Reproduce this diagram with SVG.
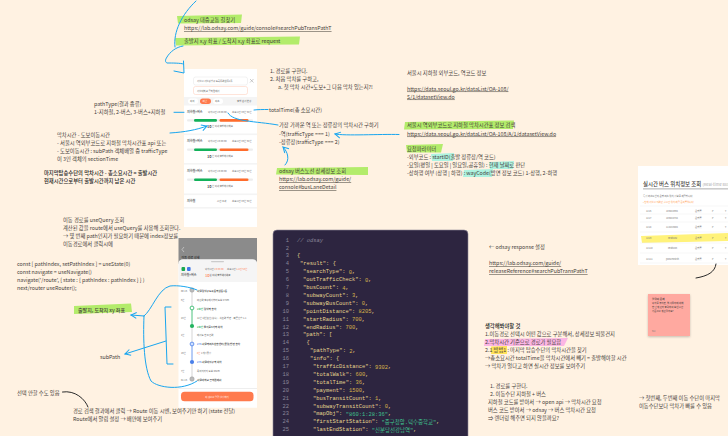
<svg xmlns="http://www.w3.org/2000/svg" width="728" height="436" viewBox="0 0 728 436">
<defs>
<style>
text{font-family:"Noto Sans CJK KR","Noto Sans",sans-serif;font-size:5.3px;fill:#45403a;dominant-baseline:central}
.b{font-weight:500;fill:#222}
.u{text-decoration:underline}
.t{font-size:2.4px;fill:#666}
.t2{font-size:2.6px;fill:#333;font-weight:500}
.o{fill:#ff7a4d}
.hg{fill:#b3ec6b}
.ht{fill:#aef3e0}
.c{stroke:#19a6ef;stroke-width:1;fill:none;stroke-linecap:round;stroke-linejoin:round}
.k{stroke:#2a2a2a;stroke-width:1;fill:none;stroke-linecap:round}
.m{font-family:"Liberation Mono","DejaVu Sans Mono","Noto Sans CJK KR",monospace;font-size:5.45px;fill:#e6d58f}
.n{fill:#8a8599;text-anchor:end}
.v{fill:#d8b24a}
.s{fill:#3fc38e}
.sep{fill:#f4f4f4}
.tt{font-size:2.4px;fill:#777}
.rl{stroke:#efefef;stroke-width:.5}
</style>
<marker id="ah" markerWidth="8" markerHeight="8" refX="6.5" refY="4" orient="auto" markerUnits="userSpaceOnUse"><path d="M1,1 L6.5,4 L1,7" fill="none" stroke="#19a6ef" stroke-width="1"/></marker>
<g id="card">
<text x="187" y="0" class="t2" style="font-size:3px">지하철+버스</text>
<text x="208" y="0" class="t">막차시간 19:00:00</text>
<text x="232" y="0" class="t">소요시간 36분 53분</text>
<rect x="187" y="7.6" width="66" height="2.2" rx="1.1" fill="#ededed"/>
<rect x="194" y="7.4" width="23" height="2.6" rx="1.3" fill="#12b15a"/>
<rect x="219.500" y="7.400" width="29" height="2.600" rx="1.300" fill="#ff6c2c"/>
<text x="207" y="14.500" class="b" style="font-size:4px">10</text>
<text x="212" y="14.500" class="t">분 이내 출발해야해요</text>
</g>
<filter id="sh" x="-20%" y="-20%" width="140%" height="140%"><feDropShadow dx="0" dy="1" stdDeviation="1.200" flood-color="#000" flood-opacity=".22"/></filter>
</defs>

<rect width="728" height="436" fill="#fff2e2"/>

<g id="highlights">
<path class="hg" d="M177,16 L242,14.500 L241,23 L178,23.500Z"/>
<path class="hg" d="M175,38 L300,36.500 L299,44.500 L176,45.500Z"/>
<path class="hg" d="M405,122 L514,120.500 L513,129 L404,129.500Z"/>
<path class="hg" d="M406,145 L443,144 L441,152.500 L407,152.500Z"/>
<path class="hg" d="M277,168 L368,167 L368,175 L276,174.500Z"/>
<path class="hg" d="M74,306 L131,303.500 L132,312 L74,314Z"/>
<path class="ht" d="M431,154 L454,153 L453,161 L432,161Z"/>
<path class="ht" d="M489,162 L514,161 L513,169 L490,169Z"/>
<path class="ht" d="M464,170 L493,169 L492,177 L463,177Z"/>
<path fill="#fbb6e4" d="M485,339 L568,338 L564,346 L484,346Z"/>
<path fill="#ffe25a" d="M491,346.500 L507,346 L507,354 L491,354Z"/>
</g>

<g id="top-notes">
<text x="184" y="20">odsay 대중교통 길찾기</text>
<text x="184" y="28" class="u">https://lab.odsay.com/guide/console#searchPubTransPathT</text>
<text x="184" y="41">출발지 x,y 좌표 / 도착지 x,y 좌표로 request</text>
</g>

<g id="phone-list">
<rect x="184" y="69" width="73" height="158" fill="#fff"/>
<rect x="193.500" y="77" width="54" height="8" rx="2" fill="#fff" stroke="#e4e4e4" stroke-width=".5"/>
<rect x="193.500" y="86.500" width="54" height="8" rx="2" fill="#fff" stroke="#ffc9b5" stroke-width=".5"/>
<text x="197" y="81" class="t">서울시 서울강남구 도곡동역삼동1동</text>
<text x="197" y="90.500" class="t">서울대학교 공학원에서</text>
<path d="M250,79 l3.500,3.500 M253.500,79 l-3.500,3.500" stroke="#999" stroke-width=".5"/>
<rect x="184" y="97" width="73" height="8.500" fill="#f4f4f4"/>
<rect x="188" y="98.500" width="10" height="5.500" rx="2.700" fill="#fff"/>
<rect x="200" y="98.500" width="11" height="5.500" rx="2.700" fill="#ff7a4d"/>
<rect x="213" y="98.500" width="10" height="5.500" rx="2.700" fill="#fff"/>
<text x="190" y="101" class="t">최적</text><text x="202.500" y="101" class="t" style="fill:#fff">최단</text><text x="215" y="101" class="t">최소</text>
<text x="237" y="101" class="t">출발 순서 변경</text>
<use href="#card" transform="translate(0,111.700)"/>
<rect class="sep" x="184" y="133.500" width="73" height="1.600"/>
<use href="#card" transform="translate(0,141)"/>
<rect class="sep" x="184" y="163" width="73" height="1.600"/>
<use href="#card" transform="translate(0,171)"/>
<rect class="sep" x="184" y="193.500" width="73" height="1.600"/>
<text x="187" y="200.700" class="t2" style="font-size:3px">지하철</text>
<text x="217" y="200.700" class="t">시간 초과</text><text x="232" y="200.700" class="t">소요시간 36분 53분</text>
<rect class="sep" x="184" y="207" width="73" height="1.600"/>
</g>

<g id="left-notes">
<text x="94" y="104">pathType(결과 종류)</text>
<text x="94" y="112">1-지하철, 2-버스, 3-버스+지하철</text>
<text x="57" y="135">막차시간 - 도보이동시간</text>
<text x="57" y="143">- 서울시 역외부코드로 지하철 막차시간표 api 또는</text>
<text x="57" y="151">- 도보이동시간 : subPath 객체배열 중 trafficType</text>
<text x="57" y="159">이 3인 객체의 sectionTime</text>
<text x="44" y="173" class="b">마지막탑승수단의 막차시간 - 총소요시간 = 출발시간</text>
<text x="44" y="181" class="b">현재시간으로부터 출발시간까지 남은 시간</text>
</g>

<g id="mid-notes">
<text x="270" y="71">1. 경로를 구한다.</text>
<text x="270" y="79">2. 처음 막차를 구하고,</text>
<text x="278" y="87">a. 첫 막차 시간+도보+그 다음 막차 있는지?!</text>
<text x="269" y="110">totalTime(총 소요시간)</text>
<text x="279" y="125">가장 가까운 역 또는 정류장의 막차시간 구하기</text>
<text x="279" y="133.500">-역(trafficType === 1)</text>
<text x="279" y="141.500">-정류장(trafficType === 2)</text>
<text x="279" y="171">odsay 버스노선 상세정보 조회</text>
<text x="279" y="179" class="u">https://lab.odsay.com/guide/</text>
<text x="279" y="187" class="u">console#busLaneDetail</text>
</g>

<g id="right-notes">
<text x="407" y="72.500">서울시 지하철 외부코드, 역코드 정보</text>
<text x="407" y="88.500" class="u">https://data.seoul.go.kr/dataList/OA-108/</text>
<text x="407" y="96.500" class="u">S/1/datasetView.do</text>
<text x="407" y="125">서울시 역외부코드로 지하철 막차시간표 정보 검색</text>
<text x="407" y="133.500" class="u">https://data.seoul.go.kr/dataList/OA-108/A/1/datasetView.do</text>
<text x="407" y="148.500">요청파라미터</text>
<text x="407" y="157">-외부코드 : startID(출발 정류장/역 코드)</text>
<text x="407" y="165">-요일(평일 | 토요일 | 일요일,공휴일) : 현재 날짜로 판단</text>
<text x="407" y="173">-상하행 여부 (상행 | 하행) : wayCode(방면 정보 코드) 1-상행, 2-하행</text>
</g>

<g id="bus-table">
<rect x="638" y="166" width="90" height="99" fill="#fff"/>
<text x="643" y="184" style="font-size:5.400px;font-weight:500">실시간 버스 위치정보 조회 <tspan style="font-size:4px;font-weight:400;fill:#aaa">(Real-time Bus</tspan></text>
<rect x="643" y="188.500" width="85" height=".8" fill="#999"/>
<text x="643" y="196" class="t">특정 버스노선의 운행 버스 위치 정보를 제공합니다.</text>
<text x="643" y="202" class="t" style="fill:#ff9a4a">• 현재 서울시 지역만 실시간 위치 제공 준비중입니다.</text>
<path fill="#fff27a" d="M641,236 L728,233 L728,241 L642,243Z"/>
<g class="rows">
<line class="rl" x1="640" x2="728" y1="206" y2="206"/><line class="rl" x1="640" x2="728" y1="214" y2="214"/><line class="rl" x1="640" x2="728" y1="222" y2="222"/><line class="rl" x1="640" x2="728" y1="232" y2="232"/><line class="rl" x1="640" x2="728" y1="243" y2="243"/><line class="rl" x1="640" x2="728" y1="253" y2="253"/><line class="rl" x1="640" x2="728" y1="263" y2="263"/>
<text class="tt" x="646" y="210.500">1215</text><text class="tt" x="666" y="210.500">105844994</text><text class="tt" x="695" y="210.500">운행중</text><text class="tt" x="712" y="210.500">P</text><text class="tt" x="725" y="210.500">Y</text>
<text class="tt" x="646" y="218">1217</text><text class="tt" x="666" y="218">105844744</text><text class="tt" x="695" y="218">운행중</text><text class="tt" x="712" y="218">P</text><text class="tt" x="725" y="218">Y</text>
<text class="tt" x="646" y="227">1218</text><text class="tt" x="666" y="227">114243804</text><text class="tt" x="695" y="227">운행중</text><text class="tt" x="712" y="227">P</text><text class="tt" x="725" y="227">Y</text>
<text class="tt" x="646" y="237.500">1219</text><text class="tt" x="668" y="237.500">seabus2</text><text class="tt" x="695" y="237.500">운행중</text><text class="tt" x="712" y="237.500">P</text><text class="tt" x="725" y="237.500">Y</text>
<text class="tt" x="646" y="248">12110</text><text class="tt" x="668" y="248">seabus3</text><text class="tt" x="695" y="248">운행중</text><text class="tt" x="712" y="248">P</text><text class="tt" x="725" y="248">Y</text>
<text class="tt" x="646" y="258.500">12111</text><text class="tt" x="666" y="258.500">pos2Post3h</text><text class="tt" x="695" y="258.500">운행중</text><text class="tt" x="712" y="258.500">P</text><text class="tt" x="725" y="258.500">Y</text>
</g>
</g>

<g id="query-notes">
<text x="63" y="220">이동 경로를 useQuery 조회</text>
<text x="63" y="228">계산된 값을 route에서 useQuery를 사용해 조회한다.</text>
<text x="63" y="236">→ 몇 번째 path인지가 필요하기 때문에 index정보를</text>
<text x="63" y="244">이동경로에서 클릭시에</text>
<text x="17" y="264">const [ pathIndex, setPathIndex ] = useState(0)</text>
<text x="17" y="272">const navigate = useNavigate()</text>
<text x="17" y="280">navigate('/route', { state : { pathIndex : pathIndex } } )</text>
<text x="17" y="288">next/router useRouter();</text>
<text x="78" y="309.500" style="font-size:5px;font-weight:500">출발지, 도착지 xy 좌표</text>
<text x="100" y="357">subPath</text>
<text x="17" y="392.500">선택 안할 수도 있음</text>
<text x="73" y="411">경로 검색 결과에서 클릭 → Route 이동 시엔, 보여주기만 하기 (state 전달)</text>
<text x="73" y="419">Route에서 알림 설정 → 배만에 보여주기</text>
</g>

<g id="phone-detail">
<rect x="178.500" y="238" width="78.500" height="26" fill="#8b8b8b"/>
<path d="M184,247 l-2,2.500 l2,2.500" fill="none" stroke="#ddd" stroke-width=".6"/>
<text x="181.500" y="257.500" class="t2" style="fill:#222;font-size:3px">이동 경로 상세</text>
<path d="M178.500,264 Q178.500,259.500 183,259.500 H252.500 Q257,259.500 257,264 V407.700 H178.500Z" fill="#fff"/>
<path d="M178.500,264 Q178.500,259.500 183,259.500 H252.500 Q257,259.500 257,264 V282 H178.500Z" fill="#f5f5f5"/>
<rect x="211" y="261" width="13" height="1.200" rx=".6" fill="#ccc"/>
<rect x="181.500" y="267" width="3.600" height="4" rx="1" fill="#18a84f"/>
<rect x="187" y="267" width="3.600" height="4" rx="1" fill="#3f78e8"/>
<text x="181" y="275" class="t2" style="font-size:3px">지하철+버스</text>
<text x="205" y="268.500" class="t">막차시간 <tspan class="o">19:00:00</tspan></text>
<text x="227" y="268.500" class="t">소요시간 <tspan class="o">1시간 53분</tspan></text>
<text x="205" y="275" class="o" style="font-size:4px;font-weight:500">10<tspan class="t">분 이내 출발해야해요</tspan></text>
<path d="M192,290 V308" stroke="#bbb" stroke-width=".6"/>
<path d="M192,308 V326" stroke="#22b35e" stroke-width=".8"/>
<path d="M192,326 V344" stroke="#bbb" stroke-width=".6"/>
<path d="M192,344 V362" stroke="#4a80ea" stroke-width=".8"/>
<path d="M192,362 V379" stroke="#bbb" stroke-width=".6"/>
<circle cx="192" cy="290" r="2.200" fill="#bbb" stroke="#999" stroke-width=".5"/>
<circle cx="192" cy="308" r="1.900" fill="#fff" stroke="#22b35e" stroke-width=".8"/>
<circle cx="192" cy="326" r="2.100" fill="#22b35e"/>
<circle cx="192" cy="344" r="1.900" fill="#cfe0ff" stroke="#4a80ea" stroke-width=".8"/>
<circle cx="192" cy="362" r="2.100" fill="#4a80ea"/>
<circle cx="192" cy="379" r="2.200" fill="#bbb" stroke="#999" stroke-width=".5"/>
<text x="181" y="290.500" class="t">00:16</text><text x="197" y="290.500" class="t2">서울강남구도곡동역삼동1동</text>
<text x="181" y="299.500" class="t">6분</text><text x="197" y="299.500" class="t">마산역 출구에서부터 도보 472m</text>
<text x="197" y="308.500" class="t2"><tspan fill="#22b35e">2호선</tspan> 강남역 승차</text>
<text x="181" y="317.500" class="t">23분</text><text x="197" y="317.500" class="t">12분 <tspan>내선순환(성수) · 석촌역 방면 · 빠른환승 1-1</tspan></text>
<text x="197" y="326.500" class="t2"><tspan fill="#22b35e">2호선</tspan> 을지로3가역 하차</text>
<text x="181" y="335" class="t">2분</text><text x="197" y="335" class="t">에서도 한 조건역</text>
<text x="197" y="344" class="t2"><tspan fill="#4a80ea">276</tspan> 서울역버스환승센터(중앙)방면 승차</text>
<text x="181" y="353" class="t">19분</text><text x="197" y="353" class="t"><tspan class="o">8분</tspan> 1개정류장</text>
<text x="197" y="362" class="t2"><tspan fill="#4a80ea">276</tspan> 서울대입구역 하차</text>
<text x="181" y="371" class="t">7분</text><text x="197" y="371" class="t">목적지까지 도보 462m</text>
<text x="181" y="379.500" class="t">01:16</text><text x="197" y="379.500" class="t2">서울대학교 공학원에서</text>
<rect x="178.500" y="388.500" width="78.500" height=".5" fill="#ddd"/>
<rect x="181" y="391.700" width="72.500" height="9.500" rx="3.500" fill="#ff7a4d"/>
<text x="217" y="396.500" class="t" style="fill:#fff;text-anchor:middle">이 경로로 알림 설정하기</text>
</g>

<g id="code-panel">
<rect x="273" y="230" width="195" height="210" rx="4" fill="#2d2540" stroke="#8d8799" stroke-width=".6"/>
<text class="m n" x="289" y="240">1</text><text class="m" x="297" y="240" style="fill:#8a8599;font-style:italic">// odsay</text>
<text class="m n" x="289" y="248">2</text>
<text class="m n" x="289" y="255.900">3</text><text class="m" x="297" y="255.900">{</text>
<text class="m n" x="289" y="263.800">4</text><text class="m" x="300" y="263.800">"result": {</text>
<text class="m n" x="289" y="271.700">5</text><text class="m" x="303" y="271.700">"searchType": <tspan class="v">0</tspan>,</text>
<text class="m n" x="289" y="279.600">6</text><text class="m" x="303" y="279.600">"outTrafficCheck": <tspan class="v">0</tspan>,</text>
<text class="m n" x="289" y="287.500">7</text><text class="m" x="303" y="287.500">"busCount": <tspan class="v">4</tspan>,</text>
<text class="m n" x="289" y="295.400">8</text><text class="m" x="303" y="295.400">"subwayCount": <tspan class="v">3</tspan>,</text>
<text class="m n" x="289" y="303.300">9</text><text class="m" x="303" y="303.300">"subwayBusCount": <tspan class="v">0</tspan>,</text>
<text class="m n" x="289" y="311.200">10</text><text class="m" x="303" y="311.200">"pointDistance": <tspan class="v">8205</tspan>,</text>
<text class="m n" x="289" y="319.100">11</text><text class="m" x="303" y="319.100">"startRadius": <tspan class="v">700</tspan>,</text>
<text class="m n" x="289" y="327">12</text><text class="m" x="303" y="327">"endRadius": <tspan class="v">700</tspan>,</text>
<text class="m n" x="289" y="334.900">13</text><text class="m" x="303" y="334.900">"path": [</text>
<text class="m n" x="289" y="342.800">14</text><text class="m" x="306.500" y="342.800">{</text>
<text class="m n" x="289" y="350.700">15</text><text class="m" x="310" y="350.700">"pathType": <tspan class="v">2</tspan>,</text>
<text class="m n" x="289" y="358.600">16</text><text class="m" x="310" y="358.600">"info": {</text>
<text class="m n" x="289" y="366.500">17</text><text class="m" x="313" y="366.500">"trafficDistance": <tspan class="v">9302</tspan>,</text>
<text class="m n" x="289" y="374.400">18</text><text class="m" x="313" y="374.400">"totalWalk": <tspan class="v">600</tspan>,</text>
<text class="m n" x="289" y="382.300">19</text><text class="m" x="313" y="382.300">"totalTime": <tspan class="v">36</tspan>,</text>
<text class="m n" x="289" y="390.200">20</text><text class="m" x="313" y="390.200">"payment": <tspan class="v">1500</tspan>,</text>
<text class="m n" x="289" y="398.100">21</text><text class="m" x="313" y="398.100">"busTransitCount": <tspan class="v">1</tspan>,</text>
<text class="m n" x="289" y="406">22</text><text class="m" x="313" y="406">"subwayTransitCount": <tspan class="v">0</tspan>,</text>
<text class="m n" x="289" y="413.900">23</text><text class="m" x="313" y="413.900">"mapObj": <tspan class="s">"860:1:28:36"</tspan>,</text>
<text class="m n" x="289" y="421.800">24</text><text class="m" x="313" y="421.800">"firstStartStation": <tspan class="s">"중구청앞.덕수중학교"</tspan>,</text>
<text class="m n" x="289" y="429.700">25</text><text class="m" x="313" y="429.700">"lastEndStation": <tspan class="s">"신분당선강남역"</tspan>,</text>
</g>

<g id="bottom-right-notes">
<text x="489" y="247">← odsay response 설정</text>
<text x="489" y="263" class="u">https://lab.odsay.com/guide/</text>
<text x="489" y="271" class="u">releaseReference#searchPubTransPathT</text>
<text x="485" y="326" class="b">생각해봐야할 것</text>
<text x="485" y="334">1.이동경로 선택시 어떤 값으로 구분해서, 상세정보 띄울건지</text>
<text x="485" y="342">2.막차시간 기준으로 경로가 필요함</text>
<text x="485" y="350">2.1 방법1 : 마지막 탑승수단의 막차시간을 찾기</text>
<text x="485" y="358">→총소요시간 totalTime을 막차시간에서 빼기 = 출발해야할 시간</text>
<text x="485" y="366">→ 막차가 얼다고 하면 실시간 정보를 보여주기</text>
<text x="490" y="386">1. 경로를 구한다.</text>
<text x="490" y="394">2. 이동수단 지하철 + 버스</text>
<text x="488" y="402">지하철 코드를 받아서 → open api → 막차시간 요청</text>
<text x="488" y="410">버스 코드 받아서 → odsay → 버스 막차시간 요청</text>
<text x="488" y="418">⇒ 렌더링 해주면 되지 않을까요?</text>
<text x="639" y="398">→ 첫번째, 두번째 이동 수단이 마지막</text>
<text x="639" y="406">이동수단보다 막차가 빠를 수 있음</text>
</g>

<g id="sticky-note">
<rect x="648" y="294" width="42" height="42" fill="#ffa9a0" filter="url(#sh)"/>
<text x="652" y="299" class="t2">알림의 문제</text>
<text x="652" y="303" class="t" style="fill:#333">막차를 놓치면, 앱 사용자에 대해</text>
<text x="652" y="307" class="t" style="fill:#333">한 단계 먼저 출력하여 보낸 시간</text>
<text x="652" y="311" class="t" style="fill:#333">기준으로 계산될까요?</text>
<text x="652" y="331" class="t" style="fill:#777">9시</text>
</g>

<g id="connectors">
<path class="c" d="M196,1 C182,14 173,32 175,47"/>
<path class="c" d="M183,46 C176,47 170,52 167,57 C165,60 165,62 167,63 C172,63 181,63 183.500,64"/>
<path class="c" d="M183.500,61 L184,73 L174,71"/>
<path class="c" d="M174,112.300 L184,112.300"/>
<path class="c" d="M170,133 C185,132 196,130 207,126" marker-end="url(#ah)"/>
<path class="c" d="M254,110 C258,109.500 263,109.500 268,109.500"/>
<path class="c" d="M228,113 C233,122 255,121 278,125"/>
<path class="c" d="M399,134.500 C380,134 345,136 335,134" marker-end="url(#ah)"/>
<path class="c" d="M285,165 C290,160 288,152 283,147" marker-end="url(#ah)"/>
<path class="c" d="M197,290 C190,287 178,285 170,286 C158,289 152,310 144,316"/>
<path class="c" d="M144,316 L131,315" marker-end="url(#ah)"/>
<path class="c" d="M144,316 C143,340 144,368 151,381 C158,388 182,391 197,381"/>
<path class="c" d="M171,307 L165,307 L167,364 L173,364"/>
<path class="c" d="M166,341 L125,354" marker-end="url(#ah)"/>
<path class="k" d="M62.500,392 C75,390 85,399 88,407"/>
<path class="k" d="M716,264 C715,272 708,276 696,278"/>
</g>
</svg>
